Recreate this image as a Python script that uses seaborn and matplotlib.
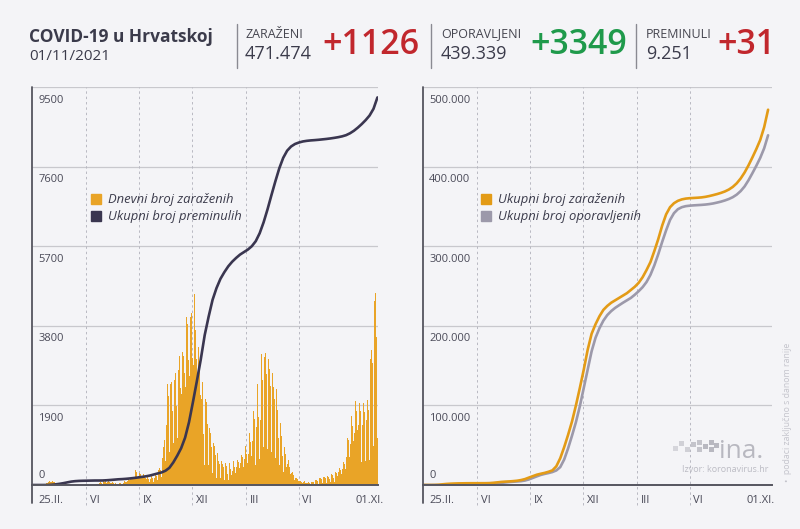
import numpy as np
import pandas as pd
import matplotlib
matplotlib.use("Agg")
import matplotlib.pyplot as plt
from matplotlib.lines import Line2D
from matplotlib.patches import Rectangle
import seaborn as sns

sns.set_theme(style="white")
plt.rcParams['font.family'] = ['Open Sans', 'DejaVu Sans']

# ---- data ----
start_date = "2020-02-25"

# daily new cases, one row per week (Tue..Mon), 25.02.2020 - 01.11.2021
daily_cases = [
    [1, 2, 0, 0, 0, 0, 0],
    [2, 1, 1, 1, 1, 1, 2],
    [3, 6, 8, 5, 11, 9, 16],
    [20, 24, 23, 46, 52, 48, 56],
    [71, 58, 91, 94, 71, 66, 77],
    [96, 96, 61, 79, 69, 66, 55],
    [71, 52, 35, 48, 34, 33, 21],
    [38, 44, 32, 31, 27, 13, 13],
    [27, 15, 21, 21, 17, 13, 10],
    [8, 7, 11, 9, 6, 3, 2],
    [5, 9, 10, 7, 4, 2, 1],
    [4, 1, 6, 4, 3, 0, 3],
    [1, 2, 1, 2, 0, 0, 0],
    [1, 1, 0, 2, 1, 0, 0],
    [0, 1, 0, 3, 1, 0, 0],
    [0, 0, 1, 4, 2, 3, 5],
    [6, 12, 23, 28, 33, 31, 22],
    [40, 67, 64, 96, 58, 35, 29],
    [61, 95, 81, 84, 86, 70, 53],
    [82, 70, 116, 103, 79, 68, 37],
    [65, 57, 56, 64, 37, 34, 24],
    [33, 48, 38, 34, 29, 25, 12],
    [30, 42, 36, 42, 39, 33, 27],
    [49, 56, 82, 86, 79, 72, 56],
    [70, 88, 125, 141, 180, 118, 117],
    [169, 180, 212, 175, 208, 177, 83],
    [178, 309, 369, 303, 229, 193, 122],
    [210, 253, 298, 271, 247, 185, 130],
    [208, 228, 272, 240, 218, 173, 64],
    [134, 167, 198, 188, 142, 136, 62],
    [146, 189, 209, 178, 162, 131, 73],
    [172, 239, 273, 234, 219, 190, 124],
    [269, 363, 402, 436, 364, 289, 187],
    [492, 650, 904, 1131, 1066, 885, 568],
    [748, 1424, 1848, 2421, 2125, 1744, 779],
    [1372, 2421, 2249, 2469, 2102, 1778, 1007],
    [2421, 2510, 2625, 2665, 2458, 1894, 1125],
    [1793, 2746, 3013, 3082, 2742, 2322, 1227],
    [2182, 3164, 3292, 3082, 2887, 2665, 1524],
    [2337, 3603, 4009, 3840, 3504, 2979, 1694],
    [2594, 3924, 4006, 4104, 3818, 3025, 1510],
    [2868, 4620, 4564, 4385, 3701, 3012, 1467],
    [2568, 3743, 3285, 3160, 2743, 2143, 952],
    [2058, 3129, 2448, 1437, 1217, 978, 480],
    [2059, 2216, 1993, 1556, 1447, 1023, 466],
    [1300, 1367, 1252, 1021, 898, 712, 288],
    [735, 1010, 933, 782, 714, 484, 162],
    [533, 768, 654, 569, 499, 367, 158],
    [457, 561, 534, 497, 420, 273, 130],
    [441, 531, 475, 444, 364, 253, 109],
    [363, 534, 410, 387, 326, 248, 101],
    [331, 574, 459, 440, 379, 297, 125],
    [425, 598, 566, 557, 530, 404, 175],
    [515, 787, 716, 672, 627, 423, 221],
    [617, 875, 929, 847, 734, 536, 265],
    [733, 1113, 1241, 1048, 1029, 700, 359],
    [1049, 1581, 1771, 1733, 1577, 1108, 481],
    [1396, 2155, 2420, 2100, 1612, 1212, 620],
    [1547, 2658, 3133, 2866, 2514, 2122, 906],
    [2106, 3064, 3148, 2846, 2641, 2026, 862],
    [2119, 3008, 3121, 2780, 2356, 1812, 799],
    [2049, 2677, 2539, 2344, 2057, 1518, 651],
    [1685, 2287, 2051, 1793, 1501, 1118, 476],
    [1151, 1471, 1327, 1160, 1029, 685, 311],
    [774, 899, 826, 729, 609, 423, 194],
    [501, 602, 529, 425, 349, 263, 92],
    [287, 329, 311, 246, 212, 131, 50],
    [170, 198, 174, 133, 121, 92, 32],
    [107, 131, 102, 96, 79, 56, 25],
    [72, 101, 88, 62, 54, 39, 14],
    [50, 78, 71, 59, 54, 40, 18],
    [68, 88, 72, 81, 74, 55, 23],
    [92, 127, 117, 120, 102, 93, 32],
    [114, 166, 165, 161, 155, 127, 54],
    [155, 193, 175, 182, 161, 131, 55],
    [177, 215, 202, 193, 180, 152, 68],
    [203, 264, 240, 231, 211, 173, 83],
    [246, 322, 285, 290, 247, 216, 97],
    [301, 411, 372, 367, 338, 270, 118],
    [386, 557, 531, 502, 469, 383, 161],
    [678, 1059, 1128, 1072, 991, 662, 298],
    [975, 1513, 1650, 1550, 1412, 1044, 416],
    [1242, 1914, 2002, 1859, 1758, 1311, 548],
    [1433, 2001, 1958, 1906, 1756, 1203, 559],
    [1440, 2036, 1946, 1917, 1737, 1215, 582],
    [1545, 2040, 2023, 1924, 1802, 1337, 595],
    [1954, 3008, 3230, 3167, 2917, 2106, 928],
    [3055, 4394, 4525, 4580, 3528, 2807, 1126],
]

# weekly totals: first value on 25.02.2020, then every Monday 02.03.2020 - 01.11.2021
deaths_total = [
    0,
    0, 0, 0, 1, 6,                              # III 2020
    15, 28, 44, 63,                             # IV
    81, 92, 98, 101,                            # V
    103, 105, 107, 107, 108,                    # VI
    113, 120, 128, 136,                         # VII
    141, 148, 157, 168, 180,                    # VIII
    193, 207, 225, 250,                         # IX
    275, 300, 340, 410,                         # X
    540, 700, 880, 1130, 1500,                  # XI
    1980, 2480, 3000, 3580,                     # XII
    4020, 4420, 4700, 4920,                     # I 2021
    5080, 5220, 5330, 5420,                     # II
    5500, 5560, 5620, 5700, 5820,               # III
    6010, 6270, 6580, 6920,                     # IV
    7250, 7560, 7810, 7980, 8080,               # V
    8140, 8175, 8200, 8215,                     # VI
    8225, 8232, 8240, 8250,                     # VII
    8260, 8272, 8286, 8302, 8322,               # VIII
    8350, 8395, 8455, 8530,                     # IX
    8615, 8710, 8820, 8980,                     # X
    9251,                                       # XI
]
cases_total = [
    1,
    7, 12, 56, 315, 867,
    1343, 1650, 1871, 2016,
    2085, 2187, 2226, 2244,
    2246, 2249, 2254, 2388, 2777,
    3325, 3880, 4250, 4490,
    4880, 5380, 6200, 7420, 9300,
    11100, 12900, 14100, 15200,
    16600, 18400, 23500, 33600,
    47500, 63000, 79800, 100000, 122000,
    145000, 170000, 190000, 202000,
    212000, 220000, 225000, 229000,
    232000, 235000, 238000, 241000,
    245000, 249000, 254000, 261000, 270000,
    280000, 294000, 309000, 326000,
    340000, 349000, 354000, 357000, 358800,
    359800, 360300, 360600, 360900,
    361300, 362000, 363000, 364200,
    365500, 367000, 368800, 371200, 374500,
    379000, 385000, 392500, 401500,
    411500, 422000, 433500, 449500,
    471474,
]
recovered_total = [
    0,
    0, 0, 1, 5, 67,
    125, 330, 712, 1135,
    1615, 1850, 1990, 2060,
    2100, 2125, 2135, 2140, 2190,
    2330, 2700, 3230, 3740,
    4100, 4450, 4830, 5600, 7000,
    8900, 10800, 12600, 13900,
    15000, 16300, 18300, 22500,
    32000, 46000, 62000, 79000, 99000,
    122000, 145000, 168000, 185000,
    197000, 206500, 213500, 218500,
    222500, 225800, 229000, 232000,
    235000, 239000, 243500, 248500, 255000,
    264000, 276000, 290000, 305500,
    320000, 333000, 341500, 346500, 349000,
    350300, 350900, 351300, 351600,
    351900, 352300, 352900, 353700,
    354800, 356000, 357500, 359300, 361600,
    364800, 369200, 375000, 382800,
    391700, 401000, 411000, 423000,
    439339,
]

tick_labels = ["25.II.", "VI", "IX", "XII", "III", "VI", "01.XI."]
tick_days = [0, 96, 190, 285, 381, 475, 570]

left_yticks = [0, 1900, 3800, 5700, 7600, 9500]
right_yticks = [0, 100000, 200000, 300000, 400000, 500000]

header_names = ["ZARAŽENI", "OPORAVLJENI", "PREMINULI"]
header_totals = ["471.474", "439.339", "9.251"]
header_new = ["+1126", "+3349", "+31"]

# ---- styling ----
BG = "#f4f4f7"
TXT = "#3b3b4b"
ORANGE_BAR = "#e9a427"
ORANGE_LINE = "#e39b16"
DARK = "#3a3650"
GREY_LINE = "#9c99aa"
RED = "#c1272d"
GREEN = "#1f9a4b"

W, H = 800, 529
fig = plt.figure(figsize=(W / 100, H / 100), dpi=100, facecolor=BG)


def px_ax(x0, x1, ytop, ybot):
    return fig.add_axes([x0 / W, 1 - ybot / H, (x1 - x0) / W, (ybot - ytop) / H])


def ftext(x, y, s, **kw):
    fig.text(x / W, 1 - y / H, s, **kw)


start = pd.Timestamp(start_date)
cases = np.array(daily_cases).ravel()
days = np.arange(len(cases))
week_dates = [start] + list(pd.date_range("2020-03-02", "2021-11-01", freq="7D"))
week_days = np.array([(d - start).days for d in week_dates])

ax1 = px_ax(32, 378, 87, 485)
ax2 = px_ax(423, 772, 87, 485)

# left: daily cases + total deaths
sns.barplot(x=days, y=cases, color=ORANGE_BAR, saturation=1, width=1.0,
            errorbar=None, native_scale=True, linewidth=0, ax=ax1)
sns.lineplot(x=week_days, y=deaths_total, color=DARK, linewidth=1.9, ax=ax1)

# right: totals
df = pd.DataFrame({"day": np.concatenate([week_days, week_days]),
                   "value": np.concatenate([recovered_total, cases_total]),
                   "serija": ["opor"] * len(week_days) + ["zar"] * len(week_days)})
sns.lineplot(data=df, x="day", y="value", hue="serija", hue_order=["opor", "zar"],
             palette={"opor": GREY_LINE, "zar": ORANGE_LINE}, linewidth=1.9,
             legend=False, ax=ax2)


def fmt_dot(v):
    return f"{v:,}".replace(",", ".")


for ax, yt, ymax, xmax, fmt in [(ax1, left_yticks, 9500, 616, str),
                                (ax2, right_yticks, 500000, 622, fmt_dot)]:
    ax.set_facecolor(BG)
    ax.set_xlim(-1, xmax)
    ax.set_ylim(0, ymax)
    ax.set_xlabel("")
    ax.set_ylabel("")
    ax.set_xticks([])
    ax.set_yticks([])
    for s in ["top", "right", "left"]:
        ax.spines[s].set_visible(False)
    ax.spines["bottom"].set_color("#55555f")
    ax.spines["bottom"].set_linewidth(1.4)
    trans = ax.get_yaxis_transform()
    for v in yt[1:]:
        ax.plot([0, 1], [v, v], transform=trans, color="#c8c8cd", lw=0.9, zorder=0.5)
        ax.annotate(fmt(v), xy=(0, v), xycoords=trans, xytext=(4.5, -5.5),
                    textcoords="offset points", ha="left", va="top", fontsize=8, color="#4a4a58")
    ax.annotate("0", xy=(0, 0), xycoords=trans, xytext=(4.5, 3),
                textcoords="offset points", ha="left", va="bottom", fontsize=8, color="#4a4a58")
    xtrans = ax.get_xaxis_transform()
    # left edge line going below axis
    ax.plot([-1, -1], [-0.045, 1], transform=xtrans, color="#55555f", lw=1.3, clip_on=False)
    for d in tick_days[1:-1]:
        ax.plot([d, d], [-0.05, 1], transform=xtrans, color="#b9b9c2", lw=0.7,
                ls=(0, (2.5, 3)), clip_on=False, zorder=0.6)
    for i, (d, lab) in enumerate(zip(tick_days, tick_labels)):
        off = 4.5 if i == 0 else 2.5
        ax.annotate(lab, xy=(d, 0), xycoords=xtrans, xytext=(off, -11),
                    textcoords="offset points", ha="left", va="center", fontsize=8, color="#4a4a58")


# legends
def sq(c):
    return Line2D([], [], marker="s", ls="", color=c, markersize=7)


leg_kw = dict(loc="upper left", frameon=False, handlelength=0.8, handletextpad=0.55,
              labelspacing=0.32, borderaxespad=0, borderpad=0,
              prop={"style": "italic", "size": 9.4})
l1 = ax1.legend([sq(ORANGE_BAR), sq(DARK)], ["Dnevni broj zaraženih", "Ukupni broj preminulih"],
                bbox_to_anchor=(0.17, 0.733), **leg_kw)
l2 = ax2.legend([sq(ORANGE_LINE), sq(GREY_LINE)], ["Ukupni broj zaraženih", "Ukupni broj oporavljenih"],
                bbox_to_anchor=(0.165, 0.733), **leg_kw)
for lg in (l1, l2):
    for t in lg.get_texts():
        t.set_color(TXT)

# header
ftext(29, 37, "COVID-19 u Hrvatskoj", fontsize=12.5, fontweight="bold", color=TXT, va="center")
ftext(29, 56, "01/11/2021", fontsize=11, color=TXT, va="center")
for xs in (237, 431, 636):
    fig.add_artist(Line2D([xs / W, xs / W], [1 - 24 / H, 1 - 68 / H], color="#8a8a92", lw=1))
name_x = [245, 441, 646]
new_x = [322, 530, 717]
new_col = [RED, GREEN, RED]
for nx, name, tot, bx, new, col in zip(name_x, header_names, header_totals, new_x, header_new, new_col):
    ftext(nx, 34, name, fontsize=9, color="#45454f", va="center")
    ftext(nx, 54, tot, fontsize=13, color=TXT, va="center", fontweight="medium")
    ftext(bx, 45, new, fontsize=24.5, color=col, va="center", fontweight="semibold")

# source / logo
for (sx, sy, a) in [(673, 451, 0.5), (679, 446, 0.6), (685, 452, 0.6), (691, 447, 0.8),
                    (697, 452, 0.8), (697, 445, 0.8), (703, 449, 1), (709, 445, 1),
                    (709, 452, 1), (714, 448, 1)]:
    fig.add_artist(Rectangle((sx / W, 1 - sy / H), 5 / W, 5 / H, color="#b8b8c0", alpha=a, lw=0))
ftext(719, 451, "ina.", fontsize=19, color="#b8b8c0", va="center")
ftext(768, 470, "Izvor: koronavirus.hr", fontsize=6.5, color="#bcbcc4", va="center", ha="right")
ftext(787, 412, "•  podaci zaključno s danom ranije", fontsize=6.3, color="#c4c4cc",
      va="center", ha="center", rotation=90)

fig.savefig("out.png", dpi=100, facecolor=BG)
